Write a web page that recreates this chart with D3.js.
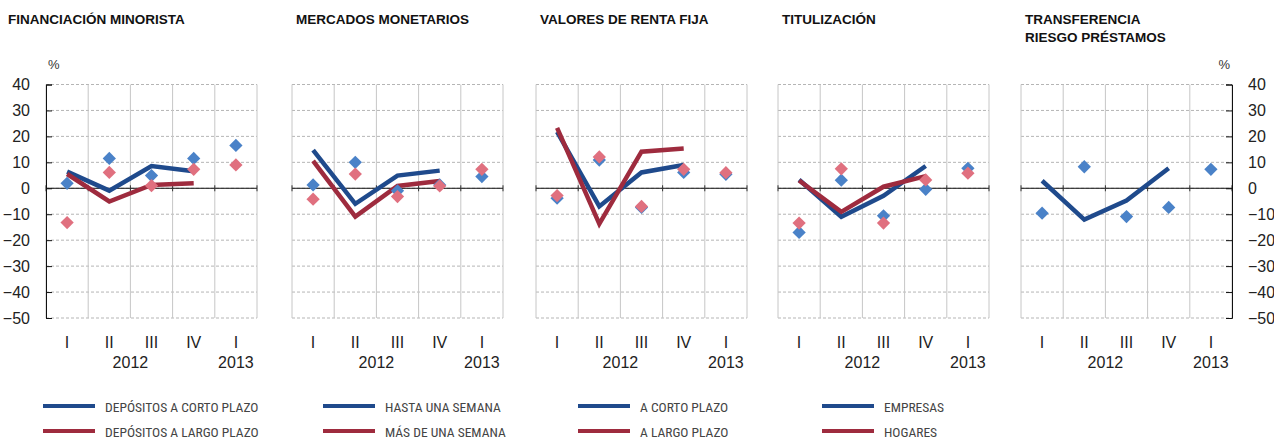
<!DOCTYPE html>
<html>
<head>
<meta charset="utf-8">
<script src="https://cdn.jsdelivr.net/npm/d3@7"></script>
<style>
  body { margin: 0; background: #fff; }
  svg { display: block; }
</style>
</head>
<body>
<svg id="chart" viewBox="0 0 1274 439" width="1274" height="439"></svg>
<script>
// categories and ticks
const quarters = ["I", "II", "III", "IV", "I"]
const yearLabels = ["2012", "2013"]
const yearFirstQ = [0, 4]
const yearLastQ = [3, 4]
const yTicks = [40, 30, 20, 10, 0, -10, -20, -30, -40, -50]

const titles = [
    ["FINANCIACIÓN MINORISTA"],
    ["MERCADOS MONETARIOS"],
    ["VALORES DE RENTA FIJA"],
    ["TITULIZACIÓN"],
    ["TRANSFERENCIA", "RIESGO PRÉSTAMOS"]
]

// lines = observed (I-IV 2012), diamonds = expected (I 2012 - I 2013)
const minoristaCorto = [6.4, -0.9, 8.6, 6.6]
const minoristaLargo = [5.5, -5.1, 1.3, 1.9]
const minoristaCortoPrev = [1.9, 11.5, 4.9, 11.5, 16.5]
const minoristaLargoPrev = [-13.2, 6.1, 1.0, 7.3, 9.0]

const monetariosSemana = [14.7, -6.0, 4.9, 6.8]
const monetariosMas = [10.6, -10.9, 0.9, 2.8]
const monetariosSemanaPrev = [1.3, 10.0, -1.0, 1.3, 4.5]
const monetariosMasPrev = [-4.2, 5.5, -3.2, 0.9, 7.3]

const rentaCorto = [21.7, -7.0, 6.1, 9.0]
const rentaLargo = [23.3, -13.7, 14.1, 15.3]
const rentaCortoPrev = [-3.8, 10.9, -7.4, 6.1, 5.4]
const rentaLargoPrev = [-2.8, 12.1, -7.0, 7.3, 6.0]

const tituEmpresas = [3.3, -11.0, -2.9, 8.6]
const tituHogares = [3.0, -9.1, 0.6, 4.7]
const tituEmpresasPrev = [-17.0, 3.1, -10.6, -0.4, 7.7]
const tituHogaresPrev = [-13.4, 7.5, -13.4, 3.2, 5.8]

const transfEmpresas = [2.9, -12.1, -4.7, 7.7]
const transfEmpresasPrev = [-9.6, 8.3, -10.9, -7.4, 7.3]

const panelSeries = [
    {blue: minoristaCorto, red: minoristaLargo, blueP: minoristaCortoPrev, redP: minoristaLargoPrev},
    {blue: monetariosSemana, red: monetariosMas, blueP: monetariosSemanaPrev, redP: monetariosMasPrev},
    {blue: rentaCorto, red: rentaLargo, blueP: rentaCortoPrev, redP: rentaLargoPrev},
    {blue: tituEmpresas, red: tituHogares, blueP: tituEmpresasPrev, redP: tituHogaresPrev},
    {blue: transfEmpresas, red: null, blueP: transfEmpresasPrev, redP: null}
]

const legendBlue = ["DEPÓSITOS A CORTO PLAZO", "HASTA UNA SEMANA", "A CORTO PLAZO", "EMPRESAS"]
const legendRed = ["DEPÓSITOS A LARGO PLAZO", "MÁS DE UNA SEMANA", "A LARGO PLAZO", "HOGARES"]

// style / layout
const BLUE = "#1f4a8c", RED = "#9e2b3e"
const BLUE_PT = "#4a82c8", RED_PT = "#e0707f"
const FONT = "'Liberation Sans', Arial, sans-serif"
const NARROW = "'Liberation Sans Narrow', 'Roboto Condensed', 'DejaVu Sans Condensed', sans-serif"
const panelLeft = [46, 292, 536, 778, 1021]
const panelWidth = 211
const plotTop = 84.5, plotBottom = 318

const svg = d3.select("#chart")

const y = d3.scaleLinear().domain([-50, 40]).range([plotBottom, plotTop])

panelSeries.forEach((ser, p) => {
    const x = d3.scaleBand()
        .domain(d3.range(quarters.length))
        .range([panelLeft[p], panelLeft[p] + panelWidth])
    const cx = i => x(i) + x.bandwidth() / 2

    const g = svg.append("g")

    // horizontal dashed grid
    g.selectAll(".hgrid")
        .data(yTicks)
        .enter()
        .append("line")
        .attr("x1", x.range()[0]).attr("x2", x.range()[1])
        .attr("y1", d => y(d)).attr("y2", d => y(d))
        .attr("stroke", "#b5b5b5")
        .attr("stroke-width", 1)
        .attr("stroke-dasharray", "3,2")

    // vertical grid
    g.selectAll(".vgrid")
        .data(d3.range(quarters.length + 1))
        .enter()
        .append("line")
        .attr("x1", i => x.range()[0] + i * x.bandwidth())
        .attr("x2", i => x.range()[0] + i * x.bandwidth())
        .attr("y1", plotTop).attr("y2", plotBottom)
        .attr("stroke", "#c6c6c6")
        .attr("stroke-width", 1)

    // zero line with small ticks
    g.append("line")
        .attr("x1", x.range()[0]).attr("x2", x.range()[1])
        .attr("y1", y(0)).attr("y2", y(0))
        .attr("stroke", "#111").attr("stroke-width", 1)
    g.selectAll(".ztick")
        .data(d3.range(quarters.length + 1))
        .enter()
        .append("line")
        .attr("x1", i => x.range()[0] + i * x.bandwidth())
        .attr("x2", i => x.range()[0] + i * x.bandwidth())
        .attr("y1", y(0) - 3).attr("y2", y(0) + 3)
        .attr("stroke", "#333").attr("stroke-width", 1)

    // value axes on outer panels
    if (p === 0) {
        const ax = g.append("g")
            .attr("transform", `translate(${x.range()[0]},0)`)
            .call(d3.axisLeft(y).tickValues(yTicks).tickSize(-6).tickPadding(16))
        ax.select(".domain").attr("stroke", "#111")
        ax.selectAll(".tick line").attr("stroke", "#111")
        ax.selectAll("text").attr("font-family", FONT).attr("font-size", 16).attr("fill", "#222")
        g.append("text").attr("x", x.range()[0] + 2).attr("y", 69)
            .attr("font-family", FONT).attr("font-size", 13).attr("fill", "#333").text("%")
    }
    if (p === panelSeries.length - 1) {
        const ax = g.append("g")
            .attr("transform", `translate(${x.range()[1]},0)`)
            .call(d3.axisRight(y).tickValues(yTicks).tickSize(-6).tickPadding(16))
        ax.select(".domain").attr("stroke", "#111")
        ax.selectAll(".tick line").attr("stroke", "#111")
        ax.selectAll("text").attr("font-family", FONT).attr("font-size", 16).attr("fill", "#222")
        g.append("text").attr("x", x.range()[1] - 2).attr("y", 69).attr("text-anchor", "end")
            .attr("font-family", FONT).attr("font-size", 13).attr("fill", "#333").text("%")
    }

    // quarter + year labels
    g.selectAll(".qlab")
        .data(quarters)
        .enter()
        .append("text")
        .attr("x", (d, i) => cx(i))
        .attr("y", 348)
        .attr("text-anchor", "middle")
        .attr("font-family", FONT).attr("font-size", 16).attr("fill", "#222")
        .text(d => d)
    g.selectAll(".ylab")
        .data(yearLabels)
        .enter()
        .append("text")
        .attr("x", (d, i) => (cx(yearFirstQ[i]) + cx(yearLastQ[i])) / 2)
        .attr("y", 368)
        .attr("text-anchor", "middle")
        .attr("font-family", FONT).attr("font-size", 16).attr("fill", "#222")
        .text(d => d)

    // title
    g.append("text")
        .attr("x", p === 0 ? 8 : x.range()[0] + 4)
        .attr("y", 24)
        .attr("font-family", FONT).attr("font-size", 13.5).attr("font-weight", "bold").attr("fill", "#111")
        .selectAll("tspan")
        .data(titles[p])
        .enter()
        .append("tspan")
        .attr("x", p === 0 ? 8 : x.range()[0] + 4)
        .attr("dy", (d, i) => i === 0 ? 0 : 18)
        .text(d => d)

    // lines
    const line = d3.line().x((d, i) => cx(i)).y(d => y(d))
    ;[[ser.blue, BLUE], [ser.red, RED]].forEach(([vals, col]) => {
        if (!vals) return
        g.append("path")
            .datum(vals)
            .attr("d", line)
            .attr("fill", "none")
            .attr("stroke", col)
            .attr("stroke-width", 4.5)
            .attr("stroke-linejoin", "miter")
    })

    // diamonds
    const diamond = d3.symbol().type(d3.symbolSquare).size(88)
    ;[[ser.blueP, BLUE_PT], [ser.redP, RED_PT]].forEach(([vals, col]) => {
        if (!vals) return
        g.selectAll(null)
            .data(vals)
            .enter()
            .append("path")
            .attr("d", diamond)
            .attr("transform", (d, i) => `translate(${cx(i)},${y(d)}) rotate(45)`)
            .attr("fill", col)
    })
})

// legend
const legendX = [43, 323, 578, 822]
const legendRows = [[legendBlue, BLUE, 406], [legendRed, RED, 431]]
legendRows.forEach(([labels, col, ly]) => {
    const lg = svg.append("g")
    lg.selectAll("line")
        .data(labels)
        .enter()
        .append("line")
        .attr("x1", (d, i) => legendX[i]).attr("x2", (d, i) => legendX[i] + 52)
        .attr("y1", ly).attr("y2", ly)
        .attr("stroke", col).attr("stroke-width", 4)
    lg.selectAll("text")
        .data(labels)
        .enter()
        .append("text")
        .attr("x", (d, i) => legendX[i] + 62)
        .attr("y", ly + 5.5)
        .attr("font-family", NARROW).attr("font-size", 13.5).attr("fill", "#444")
        .text(d => d)
})
</script>
</body>
</html>
